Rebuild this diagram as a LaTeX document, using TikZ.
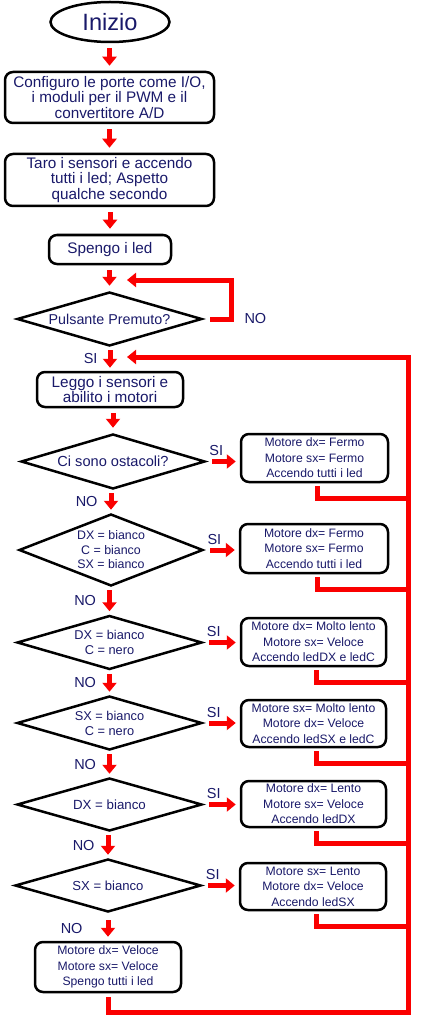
\documentclass[tikz,border=0pt]{standalone}
\usepackage{fontspec}
\setmainfont{Liberation Sans}
\usetikzlibrary{arrows.meta,shapes.geometric,calc,positioning}
\definecolor{textBlue}{RGB}{25,25,105}
\definecolor{arrowRed}{RGB}{250,0,0}
\tikzset{font=\fontsize{15.3}{15.5}\selectfont}
\tikzset{
  StepBox/.style={draw, rounded corners=8pt, line width=2.5pt, align=center,
    text=textBlue, inner sep=0pt},
  ActBox/.style={StepBox, font=\fontsize{12.2}{15.5}\selectfont},
  TestBox/.style={draw, diamond, aspect=3, line width=2.5pt, align=center,
    text=textBlue, inner sep=0pt, font=\fontsize{12.8}{15}\selectfont},
  RedArrow/.style={draw=arrowRed, line width=5pt, -{Triangle[width=14pt,length=9pt]}},
  RedLine/.style={draw=arrowRed, line width=5pt},
  ArrowLabel/.style={text=textBlue, inner sep=0pt, font=\fontsize{14.5}{15}\selectfont}
}

\begin{document}
\begin{tikzpicture}[x=1pt,y=-1pt]
  \useasboundingbox (0,0) rectangle (424,1024);

  % colonna principale
  \node[draw, ellipse, line width=2.5pt, minimum width=119pt, minimum height=40pt,
    text=textBlue, font=\fontsize{23.6}{24}\selectfont] (start) at (110,22) {Inizio};
  \node[StepBox, minimum width=209pt, minimum height=51pt] (conf) at (109.5,97.5)
    {Configuro le porte come I/O,\\ i moduli per il PWM e il\\ convertitore A/D};
  \node[StepBox, minimum width=209pt, minimum height=52pt] (taro) at (109.5,180)
    {Taro i sensori e accendo\\ tutti i led; Aspetto\\ qualche secondo};
  \node[StepBox, minimum width=122pt, minimum height=29pt] (off) at (110,249.5)
    {Spengo i led};
  \node[TestBox, minimum width=185pt, minimum height=54pt,
    font=\fontsize{14.3}{15}\selectfont] (button) at (109.5,319) {Pulsante Premuto?};
  \node[StepBox, minimum width=146pt, minimum height=35pt] (read) at (110,389.5)
    {Leggo i sensori e\\ abilito i motori};

  % test sui sensori
  \node[TestBox, minimum width=184pt, minimum height=55pt,
    font=\fontsize{14.6}{15}\selectfont] (t1) at (113,461.5) {Ci sono ostacoli?};
  \node[TestBox, minimum width=184pt, minimum height=72pt,
    font=\fontsize{12.4}{14.5}\selectfont] (t2) at (111,550)
    {DX = bianco\\ C = bianco\\ SX = bianco};
  \node[TestBox, minimum width=185pt, minimum height=54pt] (t3) at (109.5,642.5)
    {DX = bianco\\ C = nero};
  \node[TestBox, minimum width=185pt, minimum height=54pt] (t4) at (109.5,723)
    {SX = bianco\\ C = nero};
  \node[TestBox, minimum width=185pt, minimum height=53pt,
    font=\fontsize{13.3}{15}\selectfont] (t5) at (109.5,804.5) {DX = bianco};
  \node[TestBox, minimum width=186pt, minimum height=53pt,
    font=\fontsize{13.1}{15}\selectfont] (t6) at (108,885.5) {SX = bianco};
  \node[ActBox, minimum width=146pt, minimum height=50pt] (fast) at (108,967)
    {Motore dx= Veloce\\ Motore sx= Veloce\\ Spengo tutti i led};

  % azioni a destra
  \node[ActBox, minimum width=147pt, minimum height=48pt] (a1) at (314.5,458)
    {Motore dx= Fermo\\ Motore sx= Fermo\\ Accendo tutti i led};
  \node[ActBox, minimum width=148pt, minimum height=49pt] (a2) at (314,548.5)
    {Motore dx= Fermo\\ Motore sx= Fermo\\ Accendo tutti i led};
  \node[ActBox, minimum width=145pt, minimum height=48pt] (a3) at (313.5,642)
    {Motore dx= Molto lento\\ Motore sx= Veloce\\ Accendo ledDX e ledC};
  \node[ActBox, minimum width=145pt, minimum height=47pt] (a4) at (313.5,723.5)
    {Motore sx= Molto lento\\ Motore dx= Veloce\\ Accendo ledSX e ledC};
  \node[ActBox, minimum width=145pt, minimum height=46pt] (a5) at (313.5,804)
    {Motore dx= Lento\\ Motore sx= Veloce\\ Accendo ledDX};
  \node[ActBox, minimum width=146pt, minimum height=47pt] (a6) at (313,886.5)
    {Motore sx= Lento\\ Motore dx= Veloce\\ Accendo ledSX};

  \coordinate (noTurn) at (231,280);
  \coordinate (loopTip) at (127,280);
  \coordinate (railTop) at (408,357);
  \coordinate (railBot) at (408,1012);
  \coordinate (backTip) at (127,357);

  % frecce verso il basso
  \foreach \a/\b in {start/conf, conf/taro, taro/off, off/button, read/t1}
    \draw[RedArrow] ($(\a.south -| \b.north)+(0,5)$) -- ($(\b.north)+(0,-5)$);
  \draw[RedArrow] ($(button.south -| read.north)+(0,3)$) --
    node[ArrowLabel, left=10pt] {SI} ($(read.north)+(0,-3)$);
  \foreach \a/\b in {t1/t2, t2/t3, t3/t4, t4/t5, t5/t6}
    \draw[RedArrow] ($(\a.south -| \b.north)+(0,3)$) --
      node[ArrowLabel, left=11pt] {NO} ($(\b.north)+(0,-3)$);
  \draw[RedArrow] ($(t6.south -| fast.north)+(0,7)$) --
    node[ArrowLabel, left=23pt] {NO} ($(fast.north)+(0,-4)$);

  % ritorno se il pulsante non e' premuto
  \draw[RedArrow] ($(button.east)+(7,0)$) -| node[pos=0.5, ArrowLabel, right=11pt] {NO}
    (noTurn) -- (loopTip);

  % rami SI
  \foreach \t/\s in {t1/a1, t2/a2, t3/a3, t4/a4, t5/a5, t6/a6}
    \draw[RedArrow] ($(\t.east)+(6,0)$) --
      node[pos=0.17, ArrowLabel, above=3pt] {SI} ($(\t.east -| \s.west)+(-4,0)$);

  % ritorno al ciclo
  \foreach \s in {a1, a2, a3, a4, a5, a6} {
    \coordinate (out\s) at ($(\s.south)+(3,3)$);
    \coordinate (join\s) at ($(\s.south)+(0,15)$);
    \draw[RedLine] (out\s) |- (join\s -| railTop);
  }
  \draw[RedArrow] ($(fast.south)+(0,4)$) |- (railBot) |- (backTip);
\end{tikzpicture}
\end{document}
